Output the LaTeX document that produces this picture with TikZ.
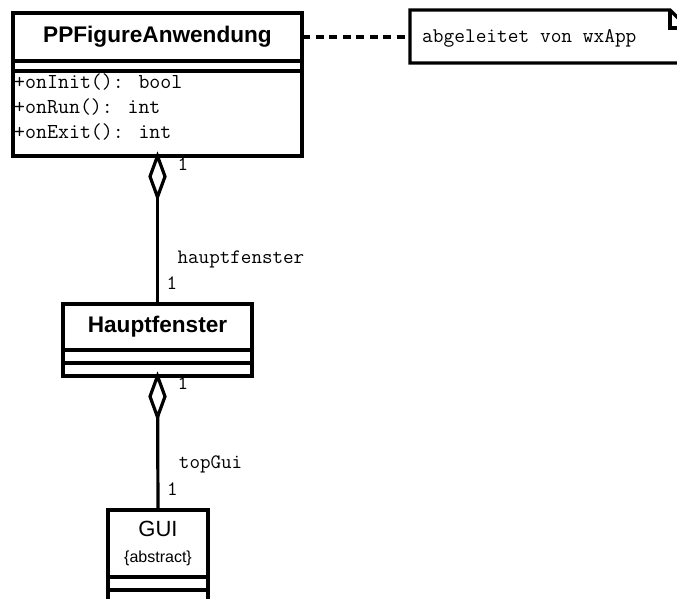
\documentclass[tikz,border=0pt]{standalone}
\usepackage{fontspec}
\setmainfont{Liberation Sans}
\setsansfont{Liberation Sans}
\tikzset{
	part/.style 2 args={draw,line width=3.2pt,minimum width=#1,minimum height=#2,inner sep=0pt,outer sep=0pt,anchor=north},
	cname/.style={font=\fontsize{22.6}{27}\selectfont\bfseries},
	optext/.style={font=\fontsize{21.3}{25}\ttfamily,inner sep=0pt,anchor=base west},
	lbl/.style={font=\fontsize{20.5}{24}\ttfamily,inner sep=0pt,anchor=base west},
	notebox/.style={minimum width=278pt,minimum height=53pt,inner sep=0pt,outer sep=0pt,anchor=north west},
	dashline/.style={line width=3.2pt,dash pattern=on 8pt off 5.5pt},
	assoc/.style={line width=3.2pt},
	diam/.style={line width=3.2pt,fill=white,line join=miter}
}
\begin{document}
\begin{tikzpicture}[x=1pt,y=-1pt]%[scale=1.5]
						\useasboundingbox (0,0) rectangle (677,598);

						\node [part={289pt}{48pt},cname] (ppfa) at (157.5,13) {PPFigureAnwendung};
						\node [part={289pt}{10pt}] (ppfa-attr) at (ppfa.south) {};
						\node [part={289pt}{85pt}] (ppfa-ops) at (ppfa-attr.south) {};
						\foreach \op [count=\i] in {{+onInit(): bool},{+onRun(): int},{+onExit(): int}}
							\node [optext] (op\i) at (14,63+25*\i) {\op};

						\node [notebox] (note) at (410,10) {};
						\draw [line width=3.2pt] (note.north west) -- ([xshift=-18pt]note.north east) -- ([yshift=-18pt]note.north east) -- (note.south east) -- (note.south west) -- cycle;
						\draw [line width=3.2pt] ([xshift=-18pt]note.north east) -- ([xshift=-18pt,yshift=-18pt]note.north east) -- ([yshift=-18pt]note.north east);
						\node [optext,font=\fontsize{20.8}{24}\ttfamily] (notetext) at (422,42) {abgeleitet von wxApp};
						\draw [dashline] (ppfa.east) -- (ppfa.east -| note.west);

						\node [part={189pt}{46pt},cname] (hf) at (157.5,304) {Hauptfenster};
						\node [part={189pt}{13pt}] (hf-attr) at (hf.south) {};
						\node [part={189pt}{13pt}] (hf-ops) at (hf-attr.south) {};

						\node [part={100pt}{67pt}] (gui) at (158,510) {};
						\node [part={100pt}{13pt}] (gui-attr) at (gui.south) {};
						\node [part={100pt}{13pt}] (gui-ops) at (gui-attr.south) {};
						\node [font=\fontsize{22}{26}\selectfont,anchor=base] (gui-name) at (158,536) {GUI};
						\node [font=\fontsize{16}{20}\selectfont,anchor=base] (gui-abs) at (158,562) {\{abstract\}};

						\draw [assoc] (ppfa-ops.south) -- (hf.north)
							node [lbl,pos=0.101,xshift=18.5pt] (m1) {1}
							node [lbl,pos=0.723,xshift=18.5pt] (role1) {hauptfenster}
							node [lbl,pos=0.905,xshift=7.5pt] (m2) {1};
						\draw [diam] (ppfa-ops.south) -- ++(7.5,20.5) -- ++(-7.5,20.5) -- ++(-7.5,-20.5) -- cycle;

						\draw [assoc] (hf-ops.south) -- (gui.north)
							node [lbl,pos=0.104,xshift=18.5pt] (m3) {1}
							node [lbl,pos=0.687,xshift=19.5pt] (role2) {topGui}
							node [lbl,pos=0.888,xshift=7.5pt] (m4) {1};
						\draw [diam] (hf-ops.south) -- ++(7.5,20.5) -- ++(-7.5,20.5) -- ++(-7.5,-20.5) -- cycle;
					\end{tikzpicture}
\end{document}
